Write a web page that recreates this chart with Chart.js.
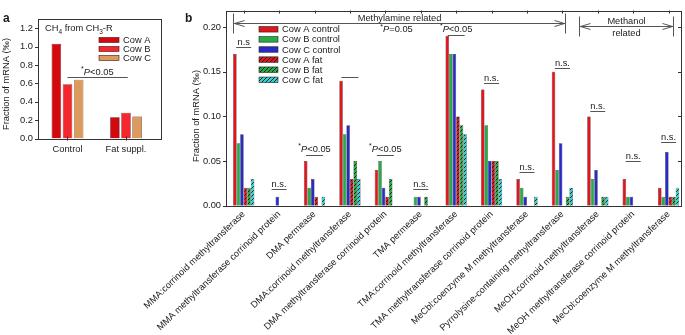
<!DOCTYPE html>
<html lang="en">
<head>
<meta charset="UTF-8">
<title>Methylotrophic methanogenesis transcripts</title>
<script src="https://cdn.jsdelivr.net/npm/chart.js"></script>
<style>
  body { margin: 0; background: #fff; }
  .wrap { position: relative; width: 685px; height: 335px; }
  canvas { position: absolute; left: 0; top: 0; }
</style>
</head>
<body>
<div class="wrap">
  <canvas id="chart-a" width="200" height="170"></canvas>
  <canvas id="chart-b" width="685" height="335"></canvas>
</div>
<script>
// ---- panel a data ----
const treatments = ['Control', 'Fat suppl.'];
const cowNames = ['Cow A', 'Cow B', 'Cow C'];
const ch4CowA = [1.03, 0.23];
const ch4CowB = [0.59, 0.28];
const ch4CowC = [0.64, 0.24];
const ticksA = [0, 0.2, 0.4, 0.6, 0.8, 1.0, 1.2];

// ---- panel b data ----
const genes = [
  'MMA:corrinoid methyltransferase',
  'MMA methyltransferase corrinoid protein',
  'DMA permease',
  'DMA:corrinoid methyltransferase',
  'DMA methyltransferase corrinoid protein',
  'TMA permease',
  'TMA:corrinoid methyltransferase',
  'TMA methyltransferase corrinoid protein',
  'MeCbl:coenzyme M methyltransferase',
  'Pyrrolysine-containing methyltransferase',
  'MeOH:corrinoid methyltransferase',
  'MeOH methyltransferase corrinoid protein',
  'MeCbl:coenzyme M methyltransferase'
];
const seriesNames = ['Cow A control', 'Cow B control', 'Cow C control', 'Cow A fat', 'Cow B fat', 'Cow C fat'];
const cowAControl = [0.17, 0, 0.05, 0.14, 0.04, 0, 0.19, 0.13, 0.03, 0.15, 0.10, 0.03, 0.02];
const cowBControl = [0.07, 0, 0.02, 0.08, 0.05, 0.01, 0.17, 0.09, 0.02, 0.04, 0.03, 0.01, 0.01];
const cowCControl = [0.08, 0.01, 0.03, 0.09, 0.02, 0.01, 0.17, 0.05, 0.01, 0.07, 0.04, 0.01, 0.06];
const cowAFat = [0.02, 0, 0.01, 0.03, 0.01, 0, 0.10, 0.05, 0, 0, 0, 0, 0.01];
const cowBFat = [0.02, 0, 0, 0.05, 0.03, 0.01, 0.09, 0.05, 0, 0.01, 0.01, 0, 0.01];
const cowCFat = [0.03, 0, 0.01, 0.03, 0, 0, 0.08, 0.03, 0.01, 0.02, 0.01, 0, 0.02];
const ticksB = [0, 0.05, 0.10, 0.15, 0.20];

// significance marks, one per gene
const sigText = ['n.s', 'n.s.', '*P<0.05', '', '*P<0.05', 'n.s.', '*P<0.05', 'n.s.', 'n.s.', 'n.s.', 'n.s.', 'n.s.', 'n.s.'];
const sigLevel = [0.1775, 0.019, 0.0565, 0.1443, 0.0565, 0.019, 0.1914, 0.1379, 0.0372, 0.1539, 0.1057, 0.050, 0.0715];

const FONT = '"Liberation Sans", Arial, Helvetica, sans-serif';
const TXT = '#1a1a1a';
const LINE = '#555';
const FS = 9.3;

Chart.defaults.font.family = FONT;
Chart.defaults.font.size = FS;
Chart.defaults.color = TXT;

const ctxB = document.getElementById('chart-b').getContext('2d');

function hatch(color) {
  const c = document.createElement('canvas');
  c.width = 4; c.height = 4;
  const g = c.getContext('2d');
  g.fillStyle = color;
  g.fillRect(0, 0, 4, 4);
  g.strokeStyle = '#111';
  g.lineWidth = 0.9;
  g.beginPath();
  g.moveTo(0, 4); g.lineTo(4, 0);
  g.moveTo(-1, 1); g.lineTo(1, -1);
  g.moveTo(3, 5); g.lineTo(5, 3);
  g.stroke();
  return ctxB.createPattern(c, 'repeat');
}

const colorsA = ['#d20a10', '#f5262c', '#dc9a5c'];
const colorsB = ['#e0161c', '#25ad45', '#2a2ac8', hatch('#e0161c'), hatch('#25ad45'), hatch('#33d0d0')];

const xy = values => values.map((v, i) => ({ x: i, y: v }));

// text with "*" raised and italic P
function drawMixed(ctx, text, cx, baseline) {
  let parts;
  if (text.startsWith('*')) {
    parts = [
      { t: '*', f: `7px ${FONT}`, dy: -3.5 },
      { t: text[1], f: `italic ${FS}px ${FONT}`, dy: 0 },
      { t: text.slice(2), f: `${FS}px ${FONT}`, dy: 0 }
    ];
  } else {
    parts = [{ t: text, f: `${FS}px ${FONT}`, dy: 0 }];
  }
  let w = 0;
  parts.forEach(p => { ctx.font = p.f; p.w = ctx.measureText(p.t).width; w += p.w; });
  let x = cx - w / 2;
  ctx.textAlign = 'left';
  ctx.textBaseline = 'alphabetic';
  parts.forEach(p => { ctx.font = p.f; ctx.fillText(p.t, x, baseline + p.dy); x += p.w; });
}

function hline(ctx, x1, x2, y) {
  ctx.beginPath();
  ctx.moveTo(x1, y);
  ctx.lineTo(x2, y);
  ctx.stroke();
}

function vTitle(ctx, text, x, cy) {
  ctx.save();
  ctx.translate(x, cy);
  ctx.rotate(-Math.PI / 2);
  ctx.font = `${FS}px ${FONT}`;
  ctx.textAlign = 'center';
  ctx.textBaseline = 'middle';
  ctx.fillText(text, 0, 0);
  ctx.restore();
}

function frame(ctx, a) {
  ctx.strokeStyle = '#333';
  ctx.lineWidth = 1;
  ctx.strokeRect(Math.round(a.left) + 0.5, Math.round(a.top) + 0.5,
    Math.round(a.right) - Math.round(a.left), Math.round(a.bottom) - Math.round(a.top));
}

const panelA = {
  id: 'panelA',
  afterDraw(chart) {
    const { ctx, chartArea: a, scales: { x, y } } = chart;
    ctx.save();
    frame(ctx, a);
    ctx.beginPath();
    ticksA.forEach(v => {
      const py = Math.round(y.getPixelForValue(v)) + 0.5;
      ctx.moveTo(a.left - 3, py); ctx.lineTo(a.left, py);
    });
    treatments.forEach((t, i) => {
      const px = Math.round(x.getPixelForValue(i)) + 0.5;
      ctx.moveTo(px, a.bottom - 2); ctx.lineTo(px, a.bottom + 2);
    });
    ctx.stroke();

    ctx.fillStyle = TXT;
    // CH4 from CH3-R
    const pieces = [['CH', 0], ['4', 1], [' from CH', 0], ['3', 1], ['-R', 0]];
    let tx = 45;
    ctx.textAlign = 'left';
    ctx.textBaseline = 'alphabetic';
    pieces.forEach(([t, sub]) => {
      ctx.font = sub ? `6.5px ${FONT}` : `${FS}px ${FONT}`;
      ctx.fillText(t, tx, sub ? 33.5 : 31);
      tx += ctx.measureText(t).width;
    });

    // legend
    chart.data.datasets.forEach((ds, i) => {
      const cy = 40 + i * 9;
      ctx.fillStyle = ds.backgroundColor;
      ctx.fillRect(99, cy - 2.5, 20, 5);
      ctx.strokeStyle = '#4a1010';
      ctx.lineWidth = 0.6;
      ctx.strokeRect(99, cy - 2.5, 20, 5);
      ctx.fillStyle = TXT;
      ctx.font = `${FS}px ${FONT}`;
      ctx.textBaseline = 'middle';
      ctx.fillText(ds.label, 123, cy + 0.5);
    });

    // significance
    const ly = Math.round(y.getPixelForValue(0.672)) + 0.5;
    ctx.strokeStyle = LINE;
    ctx.lineWidth = 1;
    hline(ctx, x.getPixelForValue(0), x.getPixelForValue(1.03), ly);
    ctx.fillStyle = TXT;
    drawMixed(ctx, '*P<0.05', x.getPixelForValue(0.51), ly - 3);

    vTitle(ctx, 'Fraction of mRNA (‰)', 6, 84);
    ctx.font = `bold 12px ${FONT}`;
    ctx.textAlign = 'left';
    ctx.textBaseline = 'alphabetic';
    ctx.fillText('a', 3, 22);
    ctx.restore();
  }
};

new Chart(document.getElementById('chart-a'), {
  type: 'bar',
  data: {
    datasets: [ch4CowA, ch4CowB, ch4CowC].map((vals, i) => ({
      label: cowNames[i],
      data: xy(vals),
      backgroundColor: colorsA[i],
      borderColor: '#4a1010',
      borderWidth: 0.6,
      categoryPercentage: 0.57,
      barPercentage: 0.86
    }))
  },
  options: {
    responsive: false,
    animation: false,
    layout: { padding: { left: 0, top: 19, right: 39, bottom: 0 } },
    plugins: { legend: { display: false }, tooltip: { enabled: false } },
    scales: {
      x: {
        type: 'linear', min: -0.504, max: 1.598, offset: false,
        grid: { display: false, drawTicks: false, offset: false },
        border: { display: false },
        afterBuildTicks: s => { s.ticks = treatments.map((_, i) => ({ value: i })); },
        afterFit: s => { s.height = 31.5; },
        ticks: { callback: v => treatments[v], autoSkip: false, minRotation: 0, maxRotation: 0, padding: 5 }
      },
      y: {
        min: 0, max: 1.3,
        grid: { display: false, drawTicks: false },
        border: { display: false },
        afterBuildTicks: s => { s.ticks = ticksA.map(v => ({ value: v })); },
        afterFit: s => { s.width = 38; },
        ticks: { callback: v => v.toFixed(1), padding: 5 }
      }
    }
  },
  plugins: [panelA]
});

const panelB = {
  id: 'panelB',
  afterDraw(chart) {
    const { ctx, chartArea: a, scales: { x, y } } = chart;
    ctx.save();
    frame(ctx, a);
    ctx.beginPath();
    ticksB.forEach(v => {
      const py = Math.round(y.getPixelForValue(v)) + 0.5;
      ctx.moveTo(a.left - 3, py); ctx.lineTo(a.left, py);
      ctx.moveTo(a.right - 3, py); ctx.lineTo(a.right, py);
    });
    genes.forEach((g, i) => {
      const px = Math.round(x.getPixelForValue(i)) + 0.5;
      ctx.moveTo(px, a.top); ctx.lineTo(px, a.top + 3);
    });
    ctx.stroke();

    // legend
    chart.data.datasets.forEach((ds, i) => {
      const cy = 29.3 + i * 10.1;
      ctx.fillStyle = ds.backgroundColor;
      ctx.fillRect(259, cy - 2.75, 19, 5.5);
      ctx.strokeStyle = '#222';
      ctx.lineWidth = 0.6;
      ctx.strokeRect(259, cy - 2.75, 19, 5.5);
      ctx.fillStyle = TXT;
      ctx.font = `${FS}px ${FONT}`;
      ctx.textAlign = 'left';
      ctx.textBaseline = 'middle';
      ctx.fillText(ds.label, 282, cy + 0.5);
    });

    // significance marks
    ctx.strokeStyle = LINE;
    ctx.lineWidth = 1;
    sigLevel.forEach((lv, i) => {
      const cx = x.getPixelForValue(i);
      const ly = Math.round(y.getPixelForValue(lv)) + 0.5;
      const half = sigText[i].startsWith('*') || sigText[i] === '' ? 8.5 : 7.5;
      hline(ctx, cx - half, cx + half, ly);
      ctx.fillStyle = TXT;
      if (sigText[i]) drawMixed(ctx, sigText[i], cx, ly - (sigText[i].startsWith('*') ? 4 : 2.5));
    });

    // group brackets
    const bracket = (from, to, level) => {
      const x1 = Math.round(x.getPixelForValue(from)) + 0.5;
      const x2 = Math.round(x.getPixelForValue(to)) + 0.5;
      const ly = Math.round(y.getPixelForValue(level)) + 0.5;
      ctx.strokeStyle = LINE;
      ctx.lineWidth = 1;
      ctx.beginPath();
      ctx.moveTo(x1, ly - 10); ctx.lineTo(x1, ly + 10);
      ctx.moveTo(x2, ly - 10); ctx.lineTo(x2, ly + 10);
      ctx.moveTo(x1, ly); ctx.lineTo(x2, ly);
      ctx.moveTo(x1 + 11, ly - 3); ctx.lineTo(x1 + 1, ly); ctx.lineTo(x1 + 11, ly + 3);
      ctx.moveTo(x2 - 11, ly - 3); ctx.lineTo(x2 - 1, ly); ctx.lineTo(x2 - 11, ly + 3);
      ctx.stroke();
      return { mid: (x1 + x2) / 2, ly };
    };
    ctx.fillStyle = TXT;
    const m1 = bracket(-0.31, 9.08, 0.2047);
    drawMixed(ctx, 'Methylamine related', m1.mid, m1.ly - 2.5);
    drawMixed(ctx, '*P=0.05', m1.mid - 3, m1.ly + 8.5);
    const m2 = bracket(9.47, 12.13, 0.2007);
    drawMixed(ctx, 'Methanol', m2.mid, m2.ly - 2.5);
    drawMixed(ctx, 'related', m2.mid, m2.ly + 9.5);

    vTitle(ctx, 'Fraction of mRNA (‰)', 196, 116);
    ctx.font = `bold 12px ${FONT}`;
    ctx.textAlign = 'left';
    ctx.textBaseline = 'alphabetic';
    ctx.fillText('b', 185, 22);
    ctx.restore();
  }
};

new Chart(ctxB, {
  type: 'bar',
  data: {
    datasets: [cowAControl, cowBControl, cowCControl, cowAFat, cowBFat, cowCFat].map((vals, i) => ({
      label: seriesNames[i],
      data: xy(vals),
      backgroundColor: colorsB[i],
      borderColor: '#222',
      borderWidth: 0.5,
      categoryPercentage: 0.6,
      barPercentage: 1
    }))
  },
  options: {
    responsive: false,
    animation: false,
    layout: { padding: { left: 0, top: 2, right: 4, bottom: 0 } },
    plugins: { legend: { display: false }, tooltip: { enabled: false } },
    scales: {
      x: {
        type: 'linear', min: -0.5, max: 12.35, offset: false,
        grid: { display: false, drawTicks: false, offset: false },
        border: { display: false },
        afterBuildTicks: s => { s.ticks = genes.map((_, i) => ({ value: i })); },
        afterFit: s => { s.height = 129.3; },
        ticks: { callback: v => genes[v], autoSkip: false, minRotation: 44, maxRotation: 44, padding: 3 }
      },
      y: {
        min: 0, max: 0.2185,
        grid: { display: false, drawTicks: false },
        border: { display: false },
        afterBuildTicks: s => { s.ticks = ticksB.map(v => ({ value: v })); },
        afterFit: s => { s.width = 226; },
        ticks: { callback: v => v.toFixed(2), padding: 5 }
      }
    }
  },
  plugins: [panelB]
});
</script>
</body>
</html>
